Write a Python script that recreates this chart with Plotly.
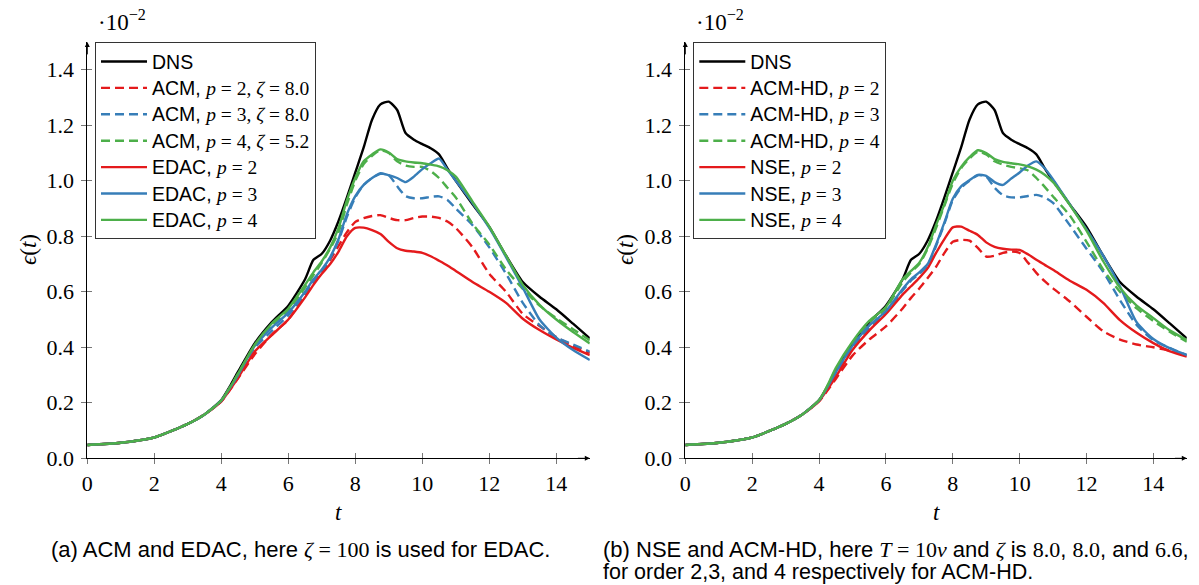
import plotly.graph_objects as go

# ---------------- data (values in units of 1e-2) ----------------
T = [0, 1, 2, 3, 3.5, 4, 4.25, 4.5, 5, 5.5, 6, 6.5, 6.75, 7, 7.25, 7.5, 7.75, 8, 8.25, 8.5,
     8.75, 9, 9.25, 9.5, 9.75, 10, 10.25, 10.5, 10.75, 11, 11.5, 12, 12.5, 13, 13.5, 14, 14.5, 15]
EARLY = [0.048, 0.056, 0.075, 0.124, 0.158]

DNS = EARLY + [0.21, 0.258, 0.312, 0.415, 0.49, 0.55, 0.645, 0.715, 0.737, 0.785, 0.855, 0.94, 1.03,
               1.12, 1.22, 1.275, 1.285, 1.255, 1.172, 1.148, 1.132, 1.117, 1.095, 1.045, 1.0, 0.915,
               0.834, 0.73, 0.635, 0.582, 0.537, 0.485, 0.432]

# panel (a)
ACM_P2 = EARLY + [0.205, 0.245, 0.288, 0.375, 0.445, 0.5, 0.59, 0.63, 0.672, 0.715, 0.765, 0.815, 0.852,
                  0.865, 0.873, 0.876, 0.866, 0.858, 0.858, 0.866, 0.871, 0.871, 0.866, 0.853, 0.83,
                  0.76, 0.665, 0.6, 0.52, 0.477, 0.437, 0.405, 0.38]
ACM_P3 = EARLY + [0.208, 0.252, 0.3, 0.398, 0.458, 0.515, 0.595, 0.635, 0.672, 0.72, 0.785, 0.87, 0.94,
                  0.985, 1.01, 1.025, 1.02, 0.98, 0.945, 0.937, 0.937, 0.942, 0.944, 0.931, 0.9, 0.84,
                  0.76, 0.665, 0.56, 0.48, 0.435, 0.41, 0.384]
ACM_P4 = EARLY + [0.208, 0.254, 0.305, 0.405, 0.478, 0.532, 0.615, 0.66, 0.705, 0.755, 0.815, 0.915,
                  1.0, 1.06, 1.09, 1.11, 1.1, 1.07, 1.055, 1.05, 1.05, 1.035, 1.01, 0.975, 0.94, 0.845,
                  0.77, 0.68, 0.61, 0.55, 0.505, 0.465, 0.425]
EDAC_P2 = EARLY + [0.205, 0.246, 0.29, 0.385, 0.443, 0.5, 0.58, 0.625, 0.665, 0.7, 0.745, 0.8, 0.83,
                   0.831, 0.822, 0.808, 0.78, 0.757, 0.748, 0.745, 0.74, 0.728, 0.712, 0.695, 0.675,
                   0.635, 0.6, 0.56, 0.503, 0.462, 0.428, 0.398, 0.372]
EDAC_P3 = EARLY + [0.208, 0.252, 0.3, 0.405, 0.47, 0.525, 0.6, 0.645, 0.68, 0.725, 0.79, 0.88, 0.945,
                   0.985, 1.01, 1.027, 1.02, 1.01, 0.995, 1.015, 1.042, 1.063, 1.08, 1.04, 1.0, 0.92,
                   0.83, 0.725, 0.615, 0.5, 0.435, 0.39, 0.354]
EDAC_P4 = EARLY + [0.208, 0.254, 0.305, 0.41, 0.485, 0.54, 0.625, 0.67, 0.71, 0.76, 0.83, 0.93, 1.01,
                   1.07, 1.095, 1.113, 1.102, 1.078, 1.07, 1.066, 1.063, 1.058, 1.052, 1.038, 1.015,
                   0.925, 0.835, 0.73, 0.625, 0.553, 0.5, 0.455, 0.414]

# panel (b)
ACMHD_P2 = EARLY + [0.205, 0.244, 0.286, 0.37, 0.428, 0.475, 0.54, 0.578, 0.612, 0.65, 0.69, 0.74, 0.78,
                    0.787, 0.784, 0.758, 0.727, 0.73, 0.74, 0.745, 0.74, 0.705, 0.668, 0.638, 0.612,
                    0.565, 0.51, 0.458, 0.428, 0.41, 0.4, 0.388, 0.37]
ACMHD_P3 = EARLY + [0.208, 0.254, 0.305, 0.4, 0.47, 0.525, 0.605, 0.64, 0.665, 0.695, 0.765, 0.845, 0.93,
                    0.975, 1.0, 1.02, 1.015, 0.975, 0.948, 0.94, 0.94, 0.945, 0.949, 0.94, 0.92, 0.84,
                    0.755, 0.672, 0.57, 0.48, 0.425, 0.397, 0.372]
ACMHD_P4 = EARLY + [0.208, 0.26, 0.32, 0.415, 0.49, 0.54, 0.635, 0.67, 0.7, 0.755, 0.83, 0.91, 0.99,
                    1.045, 1.08, 1.105, 1.095, 1.07, 1.058, 1.05, 1.045, 1.037, 1.01, 0.978, 0.943,
                    0.875, 0.78, 0.68, 0.6, 0.54, 0.495, 0.455, 0.42]
NSE_P2 = EARLY + [0.206, 0.248, 0.293, 0.39, 0.46, 0.52, 0.59, 0.62, 0.65, 0.685, 0.74, 0.79, 0.832,
                  0.835, 0.82, 0.805, 0.778, 0.762, 0.755, 0.752, 0.751, 0.735, 0.715, 0.697, 0.679,
                  0.64, 0.607, 0.56, 0.498, 0.452, 0.415, 0.385, 0.366]
NSE_P3 = EARLY + [0.208, 0.256, 0.31, 0.405, 0.478, 0.53, 0.61, 0.645, 0.67, 0.7, 0.77, 0.85, 0.935,
                  0.98, 1.002, 1.021, 1.018, 0.995, 0.985, 1.008, 1.03, 1.055, 1.07, 1.045, 1.005,
                  0.915, 0.825, 0.73, 0.62, 0.49, 0.43, 0.396, 0.372]
NSE_P4 = EARLY + [0.209, 0.262, 0.325, 0.42, 0.495, 0.545, 0.645, 0.675, 0.705, 0.76, 0.84, 0.915, 1.0,
                  1.05, 1.085, 1.11, 1.1, 1.078, 1.068, 1.063, 1.059, 1.052, 1.04, 1.022, 0.995,
                  0.913, 0.82, 0.71, 0.615, 0.55, 0.505, 0.46, 0.426]

X_TICKS = [0, 2, 4, 6, 8, 10, 12, 14]
Y_TICKS = [0.0, 0.2, 0.4, 0.6, 0.8, 1.0, 1.2, 1.4]

# ---------------- styling ----------------
W, H = 1199, 585
SERIF = "Liberation Serif"
SANS = "Liberation Sans"
RED, BLUE, GREEN, BLACK = "#e41a1c", "#377eb8", "#4daf4a", "#000000"
LW = 2.4
DASH = "9px,5px"


def m(s):
    return f'<span style="font-family:{SERIF}">{s}</span>'


def leg(s):
    return f'<span style="font-size:19.5px">{s}</span>'


def px(x):
    return x / W


def py(y):
    return 1 - y / H


X1 = [px(87.3), px(589.8)]
X2 = [px(685.3), px(1186.8)]
YD = [py(458.3), py(42.0)]

panel_a = [
    ("DNS", DNS, BLACK, "solid"),
    ("ACM, " + m("<i>p</i> = 2, <i>ζ</i> = 8.0"), ACM_P2, RED, DASH),
    ("ACM, " + m("<i>p</i> = 3, <i>ζ</i> = 8.0"), ACM_P3, BLUE, DASH),
    ("ACM, " + m("<i>p</i> = 4, <i>ζ</i> = 5.2"), ACM_P4, GREEN, DASH),
    ("EDAC, " + m("<i>p</i> = 2"), EDAC_P2, RED, "solid"),
    ("EDAC, " + m("<i>p</i> = 3"), EDAC_P3, BLUE, "solid"),
    ("EDAC, " + m("<i>p</i> = 4"), EDAC_P4, GREEN, "solid"),
]
panel_b = [
    ("DNS", DNS, BLACK, "solid"),
    ("ACM-HD, " + m("<i>p</i> = 2"), ACMHD_P2, RED, DASH),
    ("ACM-HD, " + m("<i>p</i> = 3"), ACMHD_P3, BLUE, DASH),
    ("ACM-HD, " + m("<i>p</i> = 4"), ACMHD_P4, GREEN, DASH),
    ("NSE, " + m("<i>p</i> = 2"), NSE_P2, RED, "solid"),
    ("NSE, " + m("<i>p</i> = 3"), NSE_P3, BLUE, "solid"),
    ("NSE, " + m("<i>p</i> = 4"), NSE_P4, GREEN, "solid"),
]

fig = go.Figure()
for name, ys, col, dash in panel_a:
    fig.add_trace(go.Scatter(x=T, y=ys, mode="lines", name=leg(name), xaxis="x", yaxis="y",
                             line=dict(color=col, width=LW, dash=dash, shape="spline", smoothing=0.6),
                             legend="legend"))
for name, ys, col, dash in panel_b:
    fig.add_trace(go.Scatter(x=T, y=ys, mode="lines", name=leg(name), xaxis="x2", yaxis="y2",
                             line=dict(color=col, width=LW, dash=dash, shape="spline", smoothing=0.6),
                             legend="legend2"))
# empty helper traces so the inner-tick overlay axes are drawn
fig.add_trace(go.Scatter(x=[None], y=[None], xaxis="x3", yaxis="y3", showlegend=False, hoverinfo="skip"))
fig.add_trace(go.Scatter(x=[None], y=[None], xaxis="x4", yaxis="y4", showlegend=False, hoverinfo="skip"))

tickfont = dict(family=SERIF, size=22, color="black")
xbase = dict(range=[0, 15], tickvals=X_TICKS, showgrid=False, zeroline=False, tickfont=tickfont)
ybase = dict(range=[0, 1.5], tickvals=Y_TICKS, tickformat=".1f", showgrid=False, zeroline=False,
             tickfont=tickfont)
main = dict(showline=True, linecolor="black", linewidth=1, ticks="outside", ticklen=5,
            tickcolor="#777", tickwidth=1)
over = dict(showline=False, ticks="inside", ticklen=5, tickcolor="#777", tickwidth=1,
            showticklabels=False)

fig.update_layout(
    width=W, height=H, autosize=False,
    margin=dict(l=0, r=0, t=0, b=0, autoexpand=False),
    paper_bgcolor="white", plot_bgcolor="rgba(0,0,0,0)",
    xaxis=dict(domain=X1, anchor="y", ticklabelstandoff=0, **xbase, **main),
    yaxis=dict(domain=YD, anchor="x", ticklabelstandoff=3, **ybase, **main),
    xaxis2=dict(domain=X2, anchor="y2", ticklabelstandoff=0, **xbase, **main),
    yaxis2=dict(domain=YD, anchor="x2", ticklabelstandoff=3, **ybase, **main),
    xaxis3=dict(domain=X1, anchor="y3", overlaying="x", **xbase, **over),
    yaxis3=dict(domain=YD, anchor="x3", overlaying="y", **ybase, **over),
    xaxis4=dict(domain=X2, anchor="y4", overlaying="x2", **xbase, **over),
    yaxis4=dict(domain=YD, anchor="x4", overlaying="y2", **ybase, **over),
    legend=dict(x=px(95), y=py(42.3), xanchor="left", yanchor="top", bgcolor="white",
                bordercolor="#333", borderwidth=1, font=dict(family=SANS, size=18, color="black"),
                itemwidth=46, tracegroupgap=0),
    legend2=dict(x=px(693.3), y=py(42.3), xanchor="left", yanchor="top", bgcolor="white",
                 bordercolor="#333", borderwidth=1, font=dict(family=SANS, size=18, color="black"),
                 itemwidth=46, tracegroupgap=0),
    showlegend=True,
)

ann = []
for xa, ya in (("x", "y"), ("x2", "y2")):
    ann.append(dict(xref=xa, yref=ya, x=15, y=0, ax=14.6, ay=0, axref=xa, ayref=ya, text="",
                    showarrow=True, arrowhead=2, arrowsize=1, arrowwidth=1, arrowcolor="black"))
    ann.append(dict(xref=xa, yref=ya, x=0, y=1.5, ax=0, ay=1.45, axref=xa, ayref=ya, text="",
                    showarrow=True, arrowhead=2, arrowsize=1, arrowwidth=1, arrowcolor="black"))

for left_px, mid_px, ylab_px in ((95.5, 338.5, 28), (693.5, 936, 625)):
    ann.append(dict(xref="paper", yref="paper", x=px(left_px), y=py(21), xanchor="left",
                    yanchor="middle", showarrow=False, text="·10<sup>−2</sup>",
                    font=dict(family=SERIF, size=23, color="black")))
    ann.append(dict(xref="paper", yref="paper", x=px(mid_px), y=py(512), xanchor="center",
                    yanchor="middle", showarrow=False, text="<i>t</i>",
                    font=dict(family=SERIF, size=23, color="black")))
    ann.append(dict(xref="paper", yref="paper", x=px(ylab_px), y=py(250), xanchor="center",
                    yanchor="middle", showarrow=False, text="<i>ϵ</i>(<i>t</i>)", textangle=-90,
                    font=dict(family=SERIF, size=23, color="black")))

ann.append(dict(xref="paper", yref="paper", x=px(300), y=py(549), xanchor="center", yanchor="middle",
                showarrow=False, font=dict(family=SANS, size=22, color="black"),
                text="(a) ACM and EDAC, here " + m("<i>ζ</i> = 100") + " is used for EDAC."))
ann.append(dict(xref="paper", yref="paper", x=px(601), y=py(549), xanchor="left", yanchor="middle",
                align="left", showarrow=False, font=dict(family=SANS, size=22, color="black"),
                text="(b) NSE and ACM-HD, here " + m("<i>T</i> = 10<i>ν</i>") + " and " + m("<i>ζ</i>")
                     + " is " + m("8.0") + ", " + m("8.0") + ", and " + m("6.6") + ","))
ann.append(dict(xref="paper", yref="paper", x=px(601), y=py(572), xanchor="left", yanchor="middle",
                align="left", showarrow=False, font=dict(family=SANS, size=21.5, color="black"),
                text="for order 2,3, and 4 respectively for ACM-HD."))
fig.update_layout(annotations=ann)

fig.write_html("out.html", config={"displayModeBar": False},
               post_script="document.body.style.margin='0px';")
